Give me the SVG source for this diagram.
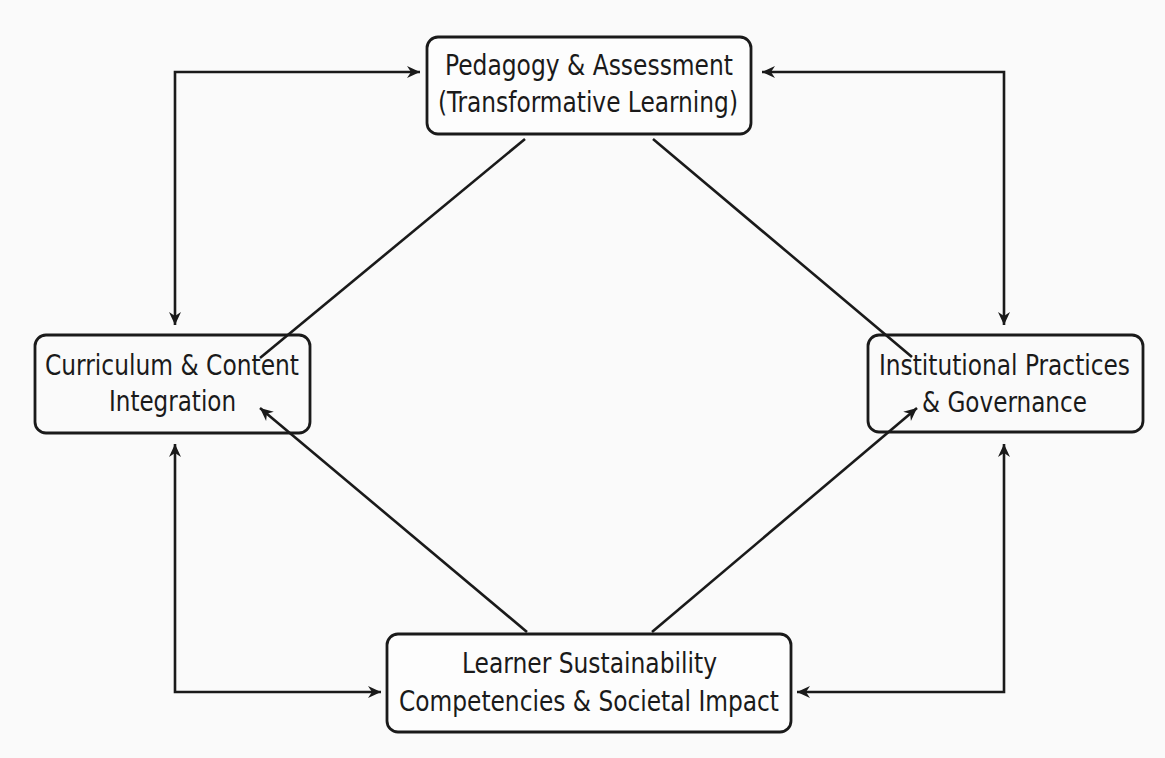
<svg xmlns="http://www.w3.org/2000/svg" width="1165" height="758" viewBox="0 0 1165 758">
<style>
.box{fill:#fdfdfd;stroke:#1a1a1a;stroke-width:2.8}
.lbl{font-family:"DejaVu Sans Condensed","DejaVu Sans",sans-serif;font-stretch:condensed;font-size:29px;fill:#1a1a1a;text-anchor:middle}
.con{fill:none;stroke:#1a1a1a;stroke-width:2.6}
</style>
<defs>
<marker id="ah" markerWidth="16" markerHeight="14" viewBox="-14 -7 16 14" refX="0" refY="0" orient="auto-start-reverse" markerUnits="userSpaceOnUse">
<path d="M0,0 L-13,-6 L-9,0 L-13,6 Z" fill="#1a1a1a"/>
</marker>
</defs>
<rect width="1165" height="758" fill="#fafafa"/>
<g id="connectors">
<polyline class="con" points="175,325 175,72 420,72" marker-start="url(#ah)" marker-end="url(#ah)"/>
<polyline class="con" points="762,72 1004,72 1004,325" marker-start="url(#ah)" marker-end="url(#ah)"/>
<polyline class="con" points="175,444 175,692 381,692" marker-start="url(#ah)" marker-end="url(#ah)"/>
<polyline class="con" points="1004,444 1004,692 797,692" marker-start="url(#ah)" marker-end="url(#ah)"/>
<line class="con" x1="525" y1="139" x2="260" y2="358"/>
<line class="con" x1="653" y1="139" x2="912" y2="357"/>
<line class="con" x1="527" y1="632" x2="260" y2="408" marker-end="url(#ah)"/>
<line class="con" x1="652" y1="632" x2="917" y2="408" marker-end="url(#ah)"/>
</g>
<g id="node-pedagogy">
<rect class="box" x="427" y="37" width="324" height="97" rx="11"/>
<text class="lbl" x="589" y="75" textLength="288" lengthAdjust="spacingAndGlyphs">Pedagogy &amp; Assessment</text>
<text class="lbl" x="588" y="112" textLength="300" lengthAdjust="spacingAndGlyphs">(Transformative Learning)</text>
</g>
<g id="node-curriculum">
<rect class="box" x="35" y="335" width="275" height="98" rx="11" style="fill:none"/>
<text class="lbl" x="172" y="375" textLength="254" lengthAdjust="spacingAndGlyphs">Curriculum &amp; Content</text>
<text class="lbl" x="172.5" y="411" textLength="127" lengthAdjust="spacingAndGlyphs">Integration</text>
</g>
<g id="node-institutional">
<rect class="box" x="868" y="335" width="275" height="97" rx="11" style="fill:none"/>
<text class="lbl" x="1004.5" y="375" textLength="251" lengthAdjust="spacingAndGlyphs">Institutional Practices</text>
<text class="lbl" x="1004.5" y="412" textLength="165" lengthAdjust="spacingAndGlyphs">&amp; Governance</text>
</g>
<g id="node-learner">
<rect class="box" x="387" y="634" width="404" height="98" rx="11"/>
<text class="lbl" x="589.5" y="673" textLength="255" lengthAdjust="spacingAndGlyphs">Learner Sustainability</text>
<text class="lbl" x="589" y="711" textLength="380" lengthAdjust="spacingAndGlyphs">Competencies &amp; Societal Impact</text>
</g>
</svg>
